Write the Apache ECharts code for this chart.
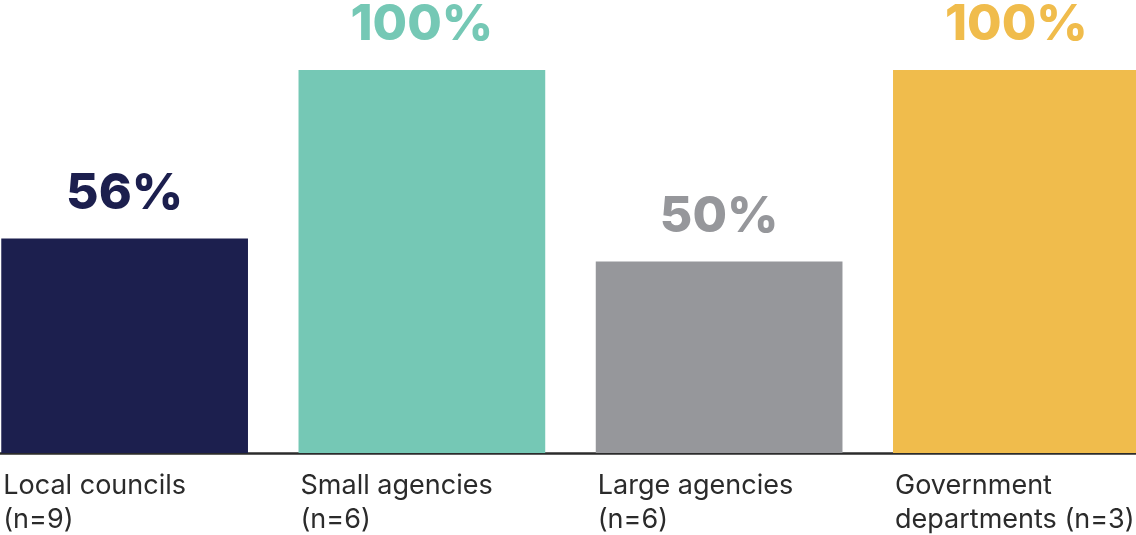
<!DOCTYPE html>
<html>
<head>
<meta charset="utf-8">
<script src="https://cdn.jsdelivr.net/npm/echarts@6/dist/echarts.min.js"></script>
<style>
  html, body { margin: 0; padding: 0; background: #ffffff; }
  #chart { width: 1136px; height: 535px; }
</style>
</head>
<body>
<div id="chart"></div>
<script>
// Share of respondents by organisation type
const categories = ['Local councils\n(n=9)', 'Small agencies\n(n=6)', 'Large agencies\n(n=6)', 'Government\ndepartments (n=3)'];
const values = [56, 100, 50, 100];
const barColors = ['#1c1f4e', '#75c8b5', '#96979b', '#f0bc4c'];

const GAP = 0.17; // share of each band left empty around a bar

const chart = echarts.init(document.getElementById('chart'), null, { renderer: 'canvas' });

chart.setOption({
  animation: false,
  backgroundColor: '#ffffff',
  grid: { left: -24, right: -29, top: 70, bottom: 82, containLabel: false, outerBoundsMode: 'none' },
  xAxis: {
    type: 'category',
    data: categories,
    axisLine: { show: true, lineStyle: { color: '#2b2b2b', width: 2.5 } },
    axisTick: { show: false },
    axisLabel: { show: false },
    splitLine: { show: false }
  },
  yAxis: {
    type: 'value',
    min: 0,
    max: 100,
    show: false
  },
  series: [
    {
      type: 'bar',
      barCategoryGap: (GAP * 100) + '%',
      data: values.map((v, i) => ({ value: v, itemStyle: { color: barColors[i] } })),
      label: {
        show: true,
        position: 'top',
        distance: 20,
        formatter: p => p.value + '%',
        color: 'inherit',
        fontFamily: 'Inter',
        fontWeight: 800,
        fontSize: 50
      }
    },
    {
      // category names, left-aligned with each bar's left edge
      type: 'custom',
      silent: true,
      clip: false,
      data: categories.map((c, i) => [i, 0]),
      renderItem(params, api) {
        const p = api.coord([api.value(0), 0]);
        const band = api.size([1, 0])[0];
        return {
          type: 'text',
          x: p[0] - band * (1 - GAP) / 2 + 2,
          y: p[1] + 16,
          style: {
            text: categories[params.dataIndex],
            fill: '#2b2b2b',
            fontFamily: 'Inter',
            fontSize: 27,
            lineHeight: 34,
            align: 'left',
            verticalAlign: 'top'
          }
        };
      }
    }
  ]
});
</script>
</body>
</html>
